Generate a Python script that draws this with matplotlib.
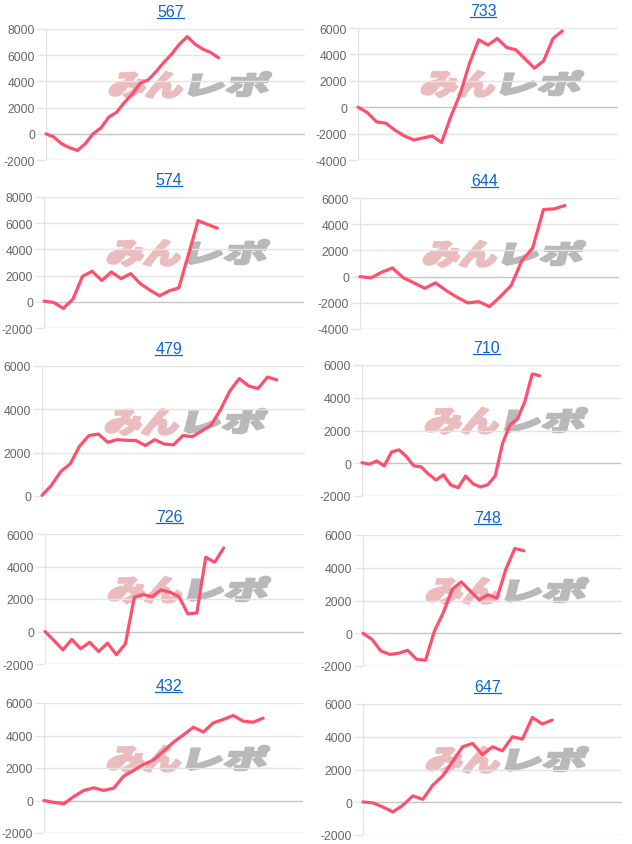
import numpy as np
import matplotlib
matplotlib.use('Agg')
import matplotlib.pyplot as plt
from matplotlib.textpath import TextPath
from matplotlib.patches import PathPatch
from matplotlib.transforms import Affine2D, IdentityTransform
from matplotlib.font_manager import FontProperties
from matplotlib.lines import Line2D

plt.rcParams['font.family'] = ['Liberation Sans', 'DejaVu Sans']
plt.rcParams['axes.unicode_minus'] = False

# machine numbers (chart titles)
titles = ['567', '733', '574', '644', '479', '710', '726', '748', '432', '647']

# cumulative difference per day
s567 = [0, -250, -760, -1060, -1270, -760, 0, 450, 1270, 1650, 2400, 3040,
        3870, 4100, 4730, 5440, 6080, 6840, 7420, 6840, 6460, 6200, 5800]
s733 = [0, -400, -1110, -1210, -1750, -2180, -2480, -2330, -2180, -2680, -700,
        1000, 3300, 5110, 4710, 5210, 4530, 4350, 3650, 2960, 3520, 5210, 5770]
s574 = [50, -50, -500, 200, 1950, 2330, 1620, 2280, 1770, 2150, 1390, 890,
        460, 840, 1060, 3600, 6200, 5900, 5620]
s644 = [0, -100, 330, 660, -80, -480, -890, -480, -1070, -1580, -2010, -1910,
        -2290, -1530, -690, 1220, 2190, 5120, 5170, 5430]
s479 = [30, 490, 1130, 1480, 2300, 2790, 2860, 2480, 2600, 2570, 2560, 2330,
        2600, 2400, 2360, 2790, 2740, 3000, 3270, 3980, 4850, 5420, 5080, 4960,
        5490, 5360]
s710 = [40, -60, 140, -160, 690, 820, 410, -160, -220, -670, -1020, -710,
        -1330, -1490, -780, -1250, -1450, -1310, -780, 1220, 2350, 2690, 3760,
        5450, 5350]
s726 = [0, -550, -1130, -490, -1060, -660, -1230, -720, -1430, -760, 2110,
        2270, 2150, 2560, 2420, 2150, 1080, 1150, 4570, 4260, 5140]
s748 = [0, -370, -1080, -1290, -1220, -1040, -1590, -1650, 140, 1270, 2690,
        3140, 2590, 2040, 2350, 2140, 3920, 5180, 5040]
s432 = [0, -120, -200, 250, 620, 780, 620, 760, 1500, 1850, 2220, 2500, 3040,
        3590, 4040, 4510, 4210, 4780, 4990, 5230, 4880, 4820, 5070]
s647 = [20, -40, -290, -590, -180, 390, 180, 1040, 1610, 2490, 3390, 3590,
        2900, 3390, 3140, 4000, 3860, 5180, 4780, 5020]
series = [s567, s733, s574, s644, s479, s710, s726, s748, s432, s647]

# number of day labels on each x axis
n_days = [34, 29, 28, 25, 29, 36, 30, 30, 27, 27]
y_ranges = [(-2000, 8000), (-4000, 6000), (-2000, 8000), (-4000, 6000), (0, 6000),
            (-2000, 6000), (-2000, 6000), (-2000, 6000), (-2000, 6000), (-2000, 6000)]

# plot area boxes in pixels: left, top, right, bottom
boxes = [(46, 30, 305, 161), (358, 29, 618, 161),
         (44, 198, 304, 329), (360, 199, 619, 330),
         (42, 367, 305, 497), (362, 366, 621, 497),
         (45, 535, 304, 665), (363, 536, 622, 667),
         (44, 704, 303, 834), (363, 705, 622, 836)]

W, H = 632, 845
fig = plt.figure(figsize=(W / 100, H / 100), dpi=100)
fig.patch.set_facecolor('white')

fp = FontProperties(family='Noto Sans CJK JP', weight='heavy')


def logo_part(text, x, y, w, h, color):
    tp = TextPath((0, 0), text, size=1, prop=fp)
    ext = tp.get_extents()
    tr = (Affine2D().translate(-ext.x0, -ext.y0)
          .scale(w / ext.width, h / ext.height)
          .skew_deg(14, 0).translate(x, y))
    p = PathPatch(tr.transform_path(tp), facecolor=color, edgecolor=color,
                  lw=1.8, joinstyle='round',
                  transform=IdentityTransform(), zorder=-1)
    fig.add_artist(p)


title_texts = []
for i in range(10):
    l, t, r, b = boxes[i]
    ax = fig.add_axes([l / W, 1 - b / H, (r - l) / W, (b - t) / H])
    ax.set_facecolor('none')

    # watermark behind the chart
    logo_part('みん', l + 62, H - (t + 69), 72, 26, '#ebbcbe')
    logo_part('レポ', l + 142, H - (t + 67), 78, 24, '#b9b9b9')

    y0, y1 = y_ranges[i]
    ticks = np.arange(y0, y1 + 1, 2000)
    for v in ticks:
        c = '#c4c4c4' if v == 0 else '#e4e4e4'
        if v == y0:
            c = '#d2d2d2'
        ax.axhline(v, color=c, lw=1, zorder=1)
    ax.axvline(0, color='#e4e4e4', lw=1, zorder=1)

    ax.plot(range(len(series[i])), series[i], color='#ff4f6d', lw=2.3,
            solid_joinstyle='round', solid_capstyle='round', zorder=3, clip_on=False)

    ax.set_xlim(0, n_days[i] - 1)
    ax.set_ylim(y0, y1)
    ax.set_yticks(ticks)
    ax.set_yticklabels([str(v) for v in ticks])
    ax.tick_params(axis='y', length=6.5, width=1, color='#e4e4e4', pad=1.5,
                   labelsize=8.8, labelcolor='#666666')
    ax.set_xticks([])
    for sp in ax.spines.values():
        sp.set_visible(False)

    cx = (l + r) / 2 - 5
    tt = fig.text(cx / W, 1 - (t - 13) / H, titles[i], ha='center', va='baseline',
                  fontsize=11.5, color='#0a66cc')
    title_texts.append((tt, t))

fig.canvas.draw()
renderer = fig.canvas.get_renderer()
for tt, t in title_texts:
    bb = tt.get_window_extent(renderer)
    yy = H - (t - 11.5)
    fig.add_artist(Line2D([bb.x0, bb.x1], [yy, yy], color='#0a66cc', lw=0.9,
                          transform=IdentityTransform()))

fig.savefig('out.png', dpi=100, facecolor='white')
